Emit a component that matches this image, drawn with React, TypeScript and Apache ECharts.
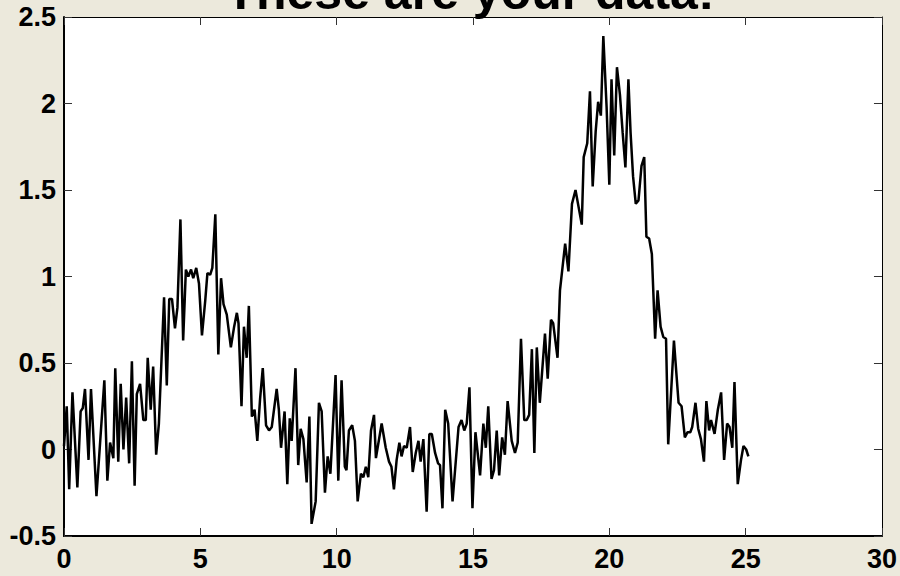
import React, { useEffect, useRef } from "react";
import * as echarts from "echarts";

const titleText = "These are your data!";
const xRange = { min: 0, max: 30, interval: 5 };
const yRange = { min: -0.5, max: 2.5, interval: 0.5 };

// [x, y] samples
const dataPoints: [number, number][] = [
  [0.0, 0.02], [0.10, 0.25], [0.19, -0.23], [0.31, 0.33], [0.49, -0.22], [0.61, 0.22], [0.69, 0.24], [0.77, 0.35],
  [0.90, -0.06], [0.99, 0.35], [1.19, -0.27], [1.48, 0.40], [1.59, -0.18], [1.69, 0.04], [1.81, -0.05], [1.88, 0.47],
  [1.99, -0.07], [2.08, 0.38], [2.18, 0.0], [2.28, 0.30], [2.39, -0.08], [2.49, 0.51], [2.59, -0.21], [2.67, 0.32],
  [2.79, 0.38], [2.91, 0.17], [3.00, 0.17], [3.07, 0.53], [3.18, 0.23], [3.27, 0.48], [3.38, -0.03], [3.48, 0.15],
  [3.67, 0.88], [3.77, 0.37], [3.86, 0.87], [3.96, 0.87], [4.07, 0.70], [4.16, 0.82], [4.27, 1.33], [4.37, 0.63],
  [4.47, 1.04], [4.56, 1.0], [4.66, 1.04], [4.74, 0.99], [4.85, 1.05], [4.95, 0.96], [5.06, 0.66], [5.18, 0.86],
  [5.26, 1.02], [5.36, 1.01], [5.44, 1.05], [5.55, 1.36], [5.66, 0.55], [5.76, 0.99], [5.85, 0.84], [5.97, 0.78],
  [6.12, 0.59], [6.24, 0.71], [6.34, 0.79], [6.40, 0.73], [6.51, 0.25], [6.60, 0.71], [6.70, 0.53], [6.78, 0.83],
  [6.89, 0.19], [6.99, 0.23], [7.09, 0.05], [7.19, 0.29], [7.29, 0.47], [7.41, 0.14],
  [7.52, 0.11], [7.62, 0.13], [7.80, 0.35], [7.88, 0.23], [7.96, 0.01], [8.09, 0.22], [8.19, -0.20], [8.28, 0.18],
  [8.35, 0.05], [8.49, 0.47], [8.59, -0.09], [8.68, 0.12], [8.78, 0.06], [8.90, -0.19], [9.00, 0.19], [9.08, -0.43],
  [9.23, -0.30], [9.35, 0.27], [9.45, 0.22], [9.57, -0.25], [9.67, -0.04], [9.77, -0.14], [9.96, 0.43], [10.06, -0.18],
  [10.18, 0.40], [10.30, -0.10], [10.36, -0.12], [10.45, 0.11], [10.57, 0.14], [10.67, 0.05], [10.77, -0.30], [10.89, -0.14],
  [10.98, -0.16], [11.07, -0.10], [11.16, -0.16], [11.26, 0.11], [11.37, 0.20],
  [11.44, -0.05], [11.65, 0.15], [11.80, 0.01], [11.92, -0.07], [12.01, -0.10], [12.10, -0.23], [12.20, -0.06], [12.30, 0.04],
  [12.38, -0.04], [12.47, 0.02], [12.57, 0.01], [12.69, 0.13], [12.79, -0.13], [12.90, -0.02], [13.00, 0.05], [13.08, -0.07],
  [13.18, 0.06], [13.30, -0.36], [13.40, 0.09], [13.49, 0.09], [13.61, -0.02], [13.72, -0.08], [13.79, -0.09], [13.88, -0.34],
  [13.98, 0.23], [14.09, 0.15], [14.25, -0.30], [14.47, 0.13], [14.58, 0.17], [14.68, 0.11], [14.77, 0.15], [14.87, 0.36],
  [14.98, -0.34], [15.09, 0.10],
  [15.26, -0.15], [15.38, 0.15], [15.47, 0.01], [15.56, 0.25], [15.68, -0.17], [15.77, -0.12], [15.87, 0.11], [15.96, -0.15],
  [16.07, 0.07], [16.17, -0.03], [16.27, 0.28], [16.42, 0.05], [16.54, -0.02], [16.64, 0.04], [16.76, 0.64], [16.88, 0.17],
  [16.97, 0.17], [17.06, 0.20], [17.16, 0.58], [17.25, -0.02], [17.34, 0.59], [17.45, 0.27], [17.64, 0.67], [17.74, 0.41],
  [17.86, 0.75], [17.94, 0.73], [18.10, 0.53], [18.19, 0.92], [18.38, 1.19], [18.50, 1.03], [18.63, 1.42], [18.76, 1.50],
  [18.99, 1.30], [19.06, 1.69], [19.19, 1.77], [19.29, 2.07], [19.39, 1.52], [19.50, 1.84], [19.59, 2.01], [19.69, 1.93],
  [19.78, 2.39], [19.90, 1.98], [20.00, 1.53], [20.08, 2.14], [20.18, 1.70], [20.28, 2.21], [20.39, 2.05], [20.49, 1.83],
  [20.59, 1.63], [20.70, 2.14], [20.78, 1.83], [20.87, 1.58], [20.97, 1.42], [21.07, 1.44], [21.18, 1.64], [21.28, 1.69],
  [21.36, 1.23], [21.46, 1.22], [21.56, 1.13], [21.68, 0.64], [21.77, 0.92], [21.88, 0.71], [21.98, 0.65], [22.08, 0.64],
  [22.16, 0.03], [22.37, 0.63], [22.54, 0.27], [22.65, 0.25], [22.77, 0.07],
  [22.87, 0.10], [22.97, 0.10], [23.04, 0.13], [23.16, 0.27], [23.26, 0.12], [23.36, 0.06], [23.47, -0.07], [23.56, 0.28],
  [23.66, 0.11], [23.73, 0.17], [23.86, 0.09], [23.98, 0.23], [24.10, 0.33], [24.21, -0.06], [24.32, 0.15], [24.41, 0.13],
  [24.51, 0.01], [24.59, 0.39], [24.71, -0.20], [24.83, -0.06], [24.92, 0.02], [25.02, 0.00], [25.10, -0.04],
];

const FONT = 'Arial, "Liberation Sans", Helvetica, sans-serif';
const BG = "#ECE9DC";

export default function App() {
  const ref = useRef<HTMLDivElement>(null);
  useEffect(() => {
    if (!ref.current) return;
    const chart = echarts.init(ref.current, null, { renderer: "svg" });
    const labelStyle = { color: "#000", fontFamily: FONT, fontWeight: "bold" as const, fontSize: 27 };
    const tick = { show: true, inside: true, length: 8, lineStyle: { color: "#333", width: 1 } };
    chart.setOption({
      animation: false,
      backgroundColor: BG,
      grid: {
        left: 64, right: 17, top: 17, bottom: 40,
        show: true, backgroundColor: "#fff", borderWidth: 0,
      },
      graphic: [
        {
          type: "text", x: 470, y: -8, z: 100,
          style: {
            text: titleText, fill: "#000", font: `bold 50px ${FONT}`,
            textAlign: "center", verticalAlign: "middle",
          },
        },
      ],
      xAxis: [
        {
          type: "value", position: "bottom", ...xRange,
          axisLine: { show: true, onZero: false, lineStyle: { color: "#000", width: 2 } },
          axisTick: tick, splitLine: { show: false },
          axisLabel: { ...labelStyle, margin: 9 },
        },
        {
          type: "value", position: "top", ...xRange,
          axisLine: { show: true, onZero: false, lineStyle: { color: "#000", width: 1 } },
          axisTick: tick, splitLine: { show: false }, axisLabel: { show: false },
        },
      ],
      yAxis: [
        {
          type: "value", position: "left", ...yRange,
          axisLine: { show: true, onZero: false, lineStyle: { color: "#000", width: 2 } },
          axisTick: tick, splitLine: { show: false },
          axisLabel: { ...labelStyle, margin: 8 },
        },
        {
          type: "value", position: "right", ...yRange,
          axisLine: { show: true, onZero: false, lineStyle: { color: "#000", width: 1 } },
          axisTick: tick, splitLine: { show: false }, axisLabel: { show: false },
        },
      ],
      series: [
        {
          type: "line", xAxisIndex: 0, yAxisIndex: 0,
          data: dataPoints, showSymbol: false, symbol: "none",
          lineStyle: { color: "#000", width: 2.5 },
          z: 3,
        },
      ],
    });
    return () => chart.dispose();
  }, []);
  return (
    <div
      ref={ref}
      style={{ position: "absolute", left: 0, top: 0, width: 900, height: 576 }}
    />
  );
}
